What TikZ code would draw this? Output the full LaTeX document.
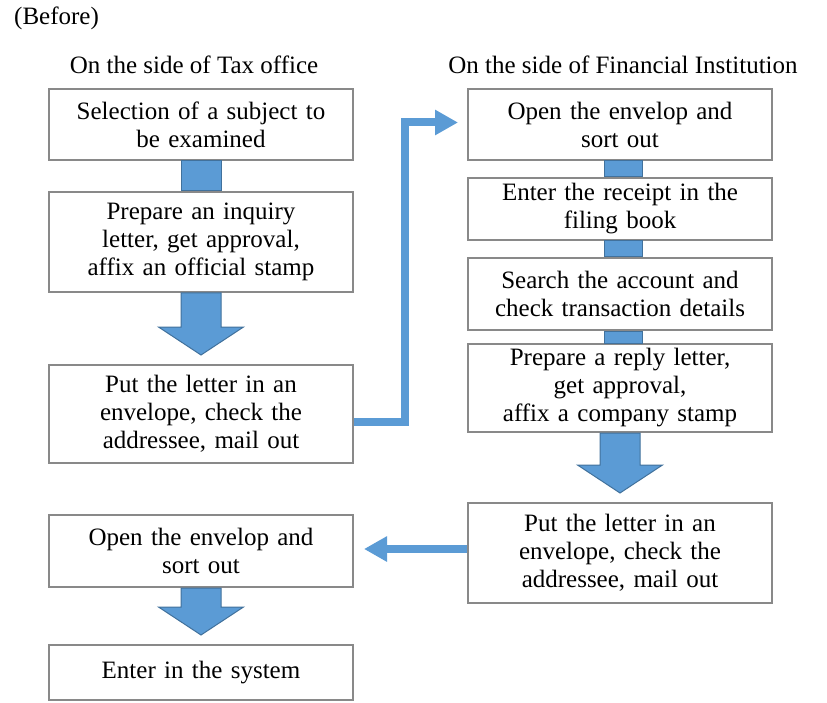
\documentclass[tikz,border=0pt]{standalone}
\usepackage{fontspec}
\setmainfont{Liberation Serif}
\usepackage{tikz}
\usetikzlibrary{calc, arrows.meta, positioning}

\definecolor{boxgray}{HTML}{898989}
\definecolor{barblue}{HTML}{5B9BD5}
\definecolor{bardark}{HTML}{41719C}

\tikzset{
    stepbox/.style={draw=boxgray, line width=2pt, fill=white, minimum width=304pt,
        text width=300pt, align=center, inner sep=0pt,
        font=\fontsize{25}{28}\selectfont},
    headtext/.style={font=\fontsize{25}{28}\selectfont, inner sep=0pt},
    barlink/.style={fill=barblue, draw=bardark, line width=1pt},
    flowline/.style={draw=barblue, line width=8pt, -{Triangle[length=23pt,width=24pt]}}
}

% block arrow from one box down to the next one
\newcommand{\bigdown}[2]{
    \filldraw[barlink] ($(#1.south)+(-20,0)$) -- ($(#2.north)+(-20,-37)$)
        -- ($(#2.north)+(-42.5,-37)$) -- ($(#2.north)+(0,-9)$)
        -- ($(#2.north)+(42.5,-37)$) -- ($(#2.north)+(20,-37)$)
        -- ($(#1.south)+(20,0)$) -- cycle;
}

\begin{document}
\begin{tikzpicture}[x=1pt, y=-1pt]
    \useasboundingbox (0,0) rectangle (827,703);

    \node[headtext, anchor=west] (before) at (14,18) {(Before)};
    \node[headtext] (taxside) at (194,65) {On the side of Tax office};
    \node[headtext] (finside) at (623,65) {On the side of Financial Institution};

    % tax office
    \node[stepbox, minimum height=71pt] (select) at (201,124.5) {Selection of a subject to\\be examined};
    \node[stepbox, minimum height=100pt] (inquiry) at (201,242) {Prepare an inquiry\\letter, get approval,\\affix an official stamp};
    \node[stepbox, minimum height=98pt] (mailtax) at (201,414) {Put the letter in an\\envelope, check the\\addressee, mail out};
    \node[stepbox, minimum height=72pt] (opentax) at (201,551) {Open the envelop and\\sort out};
    \node[stepbox, minimum height=55pt] (system) at (201,672.5) {Enter in the system};

    % financial institution
    \node[stepbox, minimum height=71pt] (openfin) at (620,124.5) {Open the envelop and\\sort out};
    \node[stepbox, minimum height=62pt] (filing) at (620,209) {Enter the receipt in the\\filing book};
    \node[stepbox, minimum height=72pt] (search) at (620,294) {Search the account and\\check transaction details};
    \node[stepbox, minimum height=88pt] (reply) at (620,388) {Prepare a reply letter,\\get approval,\\affix a company stamp};
    \node[stepbox, minimum height=100pt] (mailfin) at (620,553) {Put the letter in an\\envelope, check the\\addressee, mail out};

    % bars between boxes
    \filldraw[barlink] ($(select.south)+(-20,0)$) rectangle ($(inquiry.north)+(20,0)$);
    \filldraw[barlink] ($(openfin.south)+(-16,0)$) rectangle ($(filing.north)+(22,0)$);
    \filldraw[barlink] ($(filing.south)+(-16,0)$) rectangle ($(search.north)+(22,0)$);
    \filldraw[barlink] ($(search.south)+(-16,0)$) rectangle ($(reply.north)+(22,0)$);

    \bigdown{inquiry}{mailtax}
    \bigdown{opentax}{system}
    \bigdown{reply}{mailfin}

    % mail sent across
    \draw[flowline] ($(mailtax.east)+(0,8)$) -- ++(51,0) |- ($(openfin.west)+(-9,-2)$);
    \draw[flowline] ($(mailfin.west)+(0,-4)$) -- ($(opentax.east)+(10,-2)$);
\end{tikzpicture}
\end{document}
